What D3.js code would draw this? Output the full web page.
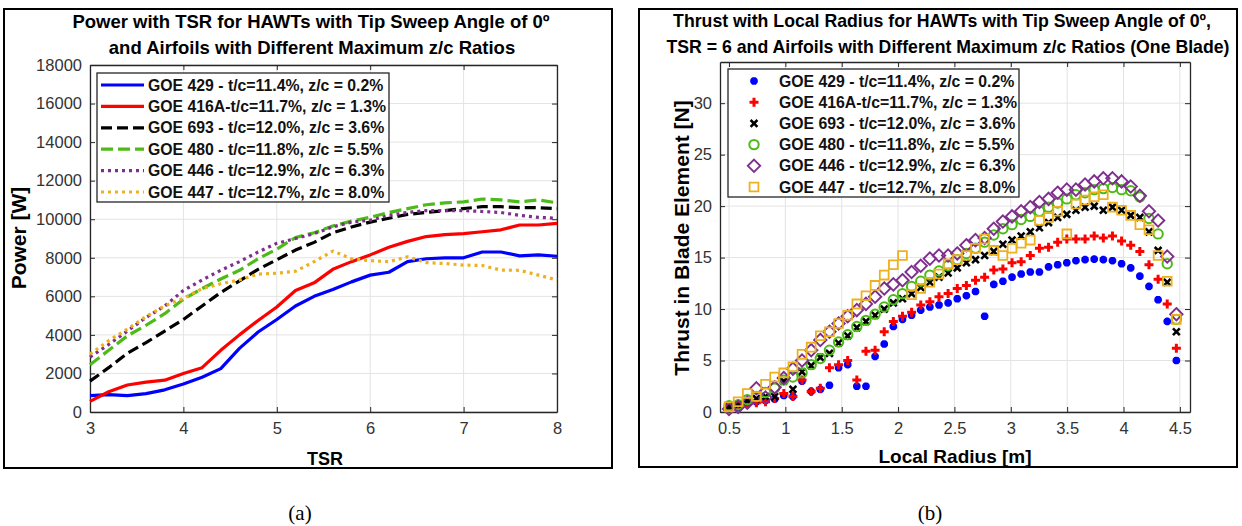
<!DOCTYPE html>
<html><head><meta charset="utf-8">
<script src="https://cdn.jsdelivr.net/npm/d3@7"></script>
<style>body{margin:0;background:#fff}svg{display:block}</style>
</head><body>
<svg id="c" width="1242" height="526"></svg>
<script>
// ---------- DATA ----------
const seriesNames = [
  "GOE 429 - t/c=11.4%, z/c = 0.2%",
  "GOE 416A-t/c=11.7%, z/c = 1.3%",
  "GOE 693 - t/c=12.0%, z/c = 3.6%",
  "GOE 480 - t/c=11.8%, z/c = 5.5%",
  "GOE 446 - t/c=12.9%, z/c = 6.3%",
  "GOE 447 - t/c=12.7%, z/c = 8.0%"
];
const tsr = [3.0,3.2,3.4,3.6,3.8,4.0,4.2,4.4,4.6,4.8,5.0,5.2,5.4,5.6,5.8,6.0,6.2,6.4,6.6,6.8,7.0,7.2,7.4,7.6,7.8,8.0];
const powerGOE429  = [850,900,850,950,1150,1450,1800,2250,3300,4150,4800,5500,6000,6350,6750,7100,7250,7800,7950,8000,8000,8300,8300,8100,8150,8080];
const powerGOE416A = [550,1050,1400,1550,1650,2000,2300,3200,4000,4750,5450,6300,6700,7400,7800,8150,8550,8850,9100,9200,9250,9350,9450,9700,9700,9780];
const powerGOE693  = [1600,2300,3050,3600,4200,4800,5500,6200,6800,7400,7900,8400,8800,9300,9600,9850,10050,10250,10350,10450,10550,10650,10650,10600,10600,10550];
const powerGOE480  = [2450,3200,3950,4500,5100,5850,6400,6900,7350,7950,8450,9050,9300,9650,9900,10100,10350,10550,10750,10850,10900,11050,11000,10900,11000,10850];
const powerGOE446  = [2850,3500,4200,4900,5500,6300,6850,7350,7800,8300,8750,9000,9250,9600,9850,9950,10200,10350,10450,10450,10450,10400,10350,10200,10100,10050];
const powerGOE447  = [3000,3700,4300,4950,5500,5900,6400,6650,6850,7150,7200,7300,7800,8350,7950,7850,7800,8050,7750,7700,7620,7600,7360,7350,7100,6850];

const radius = [0.500,0.581,0.662,0.743,0.824,0.905,0.986,1.067,1.148,1.229,
  1.310,1.391,1.472,1.553,1.634,1.715,1.796,1.877,1.958,2.039,
  2.120,2.201,2.282,2.363,2.444,2.525,2.606,2.687,2.768,2.849,
  2.930,3.011,3.092,3.173,3.254,3.335,3.416,3.497,3.578,3.659,
  3.740,3.821,3.902,3.983,4.064,4.145,4.226,4.307,4.388,4.469];
const thrustGOE429 = [0.5,0.45,0.9,1.0,1.1,1.25,1.6,1.5,3.0,2.0,
  2.2,2.6,4.3,4.6,2.5,2.5,5.4,6.6,8.3,9.0,
  9.4,9.9,10.2,10.4,10.6,11.0,11.3,11.7,9.3,12.4,
  12.7,13.1,13.4,13.6,13.6,14.1,14.3,14.5,14.7,14.8,
  14.85,14.8,14.7,14.4,14.0,13.2,12.2,10.9,8.8,5.0];
const thrustGOE416A = [0.5,0.6,0.8,0.9,1.0,1.3,1.8,1.5,3.1,2.0,
  2.3,4.3,4.6,5.0,3.1,5.9,6.0,7.8,8.8,9.3,
  9.7,10.4,10.7,11.2,11.5,12.0,12.3,12.8,13.1,13.8,
  13.9,14.5,14.6,15.2,15.9,16.0,16.5,16.8,16.8,16.8,
  17.1,16.9,17.1,16.6,16.2,15.6,14.3,12.9,10.5,6.2];
const thrustGOE693 = [0.5,0.7,1.1,1.3,1.5,1.5,3.0,2.2,3.9,4.5,
  5.3,5.7,6.7,7.4,8.2,8.8,9.4,10.0,10.6,11.0,
  11.5,12.1,12.6,13.1,13.5,14.0,14.5,14.8,15.2,15.6,
  16.3,16.7,17.1,17.5,17.9,18.4,18.9,19.2,19.6,19.9,
  20.0,19.6,19.9,19.6,19.1,18.9,17.5,15.7,12.6,7.8];
const thrustGOE480 = [0.6,0.7,1.2,1.5,1.9,2.3,3.1,3.4,3.8,4.6,
  5.2,6.0,6.8,7.5,8.3,8.9,9.5,10.2,10.9,11.5,
  12.2,12.7,13.3,13.7,14.2,14.8,15.4,15.9,16.5,17.2,
  17.8,18.2,18.7,19.0,19.5,19.9,20.3,20.7,21.1,21.3,
  21.6,21.7,21.8,21.6,21.5,20.9,18.8,17.3,14.4,9.0];
const thrustGOE446 = [0.3,0.5,0.9,2.3,1.4,2.4,3.3,4.2,5.0,6.0,
  7.0,7.8,8.6,9.3,9.9,10.5,11.2,12.0,12.4,12.8,
  13.6,14.2,14.9,15.2,15.2,15.4,16.2,16.7,16.9,17.8,
  18.5,19.0,19.5,19.9,20.4,20.7,21.3,21.6,21.6,22.1,
  22.4,22.7,22.7,22.4,21.9,21.0,19.5,18.6,15.1,9.5];
const thrustGOE447 = [0.5,1.0,1.8,1.5,2.7,3.4,3.8,4.4,5.6,6.3,
  7.4,7.8,8.6,9.4,10.5,11.3,12.3,13.3,14.3,15.2,
  11.4,12.0,12.6,13.4,14.4,14.8,15.2,15.9,16.8,15.7,
  15.2,15.9,16.4,16.7,18.6,18.9,19.5,17.3,20.2,20.6,
  20.9,21.1,19.9,19.6,19.1,18.2,17.7,15.2,12.7,9.0];

const powerTicks = [0,2000,4000,6000,8000,10000,12000,14000,16000,18000];
const tsrTicks = [3,4,5,6,7,8];
const radiusTicks = [0.5,1,1.5,2,2.5,3,3.5,4,4.5];
const thrustTicks = [0,5,10,15,20,25,30];

// ---------- STYLE ----------
const colors = ["#0000ff","#ff0000","#000000","#4cbb17","#7e2f8e","#edb120"];
const dashes = [null,null,"11,5","12,5","3,4","3,4"];
const FONT = "'Liberation Sans', Arial, Helvetica, sans-serif";
const AX = "#262626", GRID = "#e3e3e3";

const svg = d3.select("#c").style("font-family", FONT);

// outer frames
svg.append("rect").attr("x",4).attr("y",9).attr("width",608).attr("height",459)
  .attr("fill","none").attr("stroke","#000").attr("stroke-width",2);
svg.append("rect").attr("x",639).attr("y",9).attr("width",598).attr("height",458)
  .attr("fill","none").attr("stroke","#000").attr("stroke-width",2);

function drawAxes(g, x, y, xt, yt, xfmt, yfmt) {
  const [x0,x1] = x.range(), [y0,y1] = y.range();
  g.append("g").selectAll("line").data(xt).join("line")
    .attr("x1",d=>x(d)).attr("x2",d=>x(d)).attr("y1",y1).attr("y2",y0)
    .attr("stroke",GRID).attr("stroke-width",1);
  g.append("g").selectAll("line").data(yt).join("line")
    .attr("y1",d=>y(d)).attr("y2",d=>y(d)).attr("x1",x0).attr("x2",x1)
    .attr("stroke",GRID).attr("stroke-width",1);
  const xb = g.append("g").attr("transform",`translate(0,${y0})`)
    .call(d3.axisBottom(x).tickValues(xt).tickFormat(xfmt).tickSizeInner(-5).tickSizeOuter(0).tickPadding(10));
  const xtop = g.append("g").attr("transform",`translate(0,${y1})`)
    .call(d3.axisTop(x).tickValues(xt).tickFormat("").tickSizeInner(-5).tickSizeOuter(0));
  const yl = g.append("g").attr("transform",`translate(${x0},0)`)
    .call(d3.axisLeft(y).tickValues(yt).tickFormat(yfmt).tickSizeInner(-5).tickSizeOuter(0).tickPadding(8));
  const yr = g.append("g").attr("transform",`translate(${x1},0)`)
    .call(d3.axisRight(y).tickValues(yt).tickFormat("").tickSizeInner(-5).tickSizeOuter(0));
  [xb,xtop,yl,yr].forEach(a=>{
    a.selectAll("path").attr("stroke",AX).attr("stroke-width",1.3);
    a.selectAll("line").attr("stroke",AX);
    a.selectAll("text").attr("fill","#333").style("font-size","16.5px").style("font-family",FONT);
  });
}

// ---------- LEFT CHART ----------
{
  const x = d3.scaleLinear().domain([3,8]).range([90,557]);
  const y = d3.scaleLinear().domain([0,18000]).range([412,65]);
  const g = svg.append("g");
  drawAxes(g, x, y, tsrTicks, powerTicks, d3.format("d"), d3.format("d"));
  const seriesP = [powerGOE429,powerGOE416A,powerGOE693,powerGOE480,powerGOE446,powerGOE447];
  const line = d3.line().x((d,i)=>x(tsr[i])).y(d=>y(d));
  seriesP.forEach((s,k)=>{
    g.append("path").datum(s).attr("d",line).attr("fill","none")
      .attr("stroke",colors[k]).attr("stroke-width",3.2)
      .attr("stroke-dasharray",dashes[k]).attr("stroke-linejoin","round");
  });
  const t = svg.append("text").attr("text-anchor","middle").attr("font-weight","bold")
    .style("font-size","18.5px").attr("fill","#000");
  t.append("tspan").attr("x",311).attr("y",28).text("Power with TSR for HAWTs with Tip Sweep Angle of 0º");
  t.append("tspan").attr("x",312).attr("y",54).text("and Airfoils with Different Maximum z/c Ratios");
  svg.append("text").attr("x",325).attr("y",465).attr("text-anchor","middle")
    .attr("font-weight","bold").style("font-size","18px").text("TSR");
  svg.append("text").attr("transform","translate(26,238) rotate(-90)").attr("text-anchor","middle")
    .attr("font-weight","bold").style("font-size","21px").text("Power [W]");
  const lg = svg.append("g");
  lg.append("rect").attr("x",97).attr("y",73).attr("width",292).attr("height",129)
    .attr("fill","#fff").attr("stroke",AX).attr("stroke-width",1.3);
  seriesNames.forEach((n,k)=>{
    const yy = 85 + k*21.4;
    lg.append("line").attr("x1",101).attr("x2",144).attr("y1",yy).attr("y2",yy)
      .attr("stroke",colors[k]).attr("stroke-width",3.2).attr("stroke-dasharray",dashes[k]);
    lg.append("text").attr("x",148).attr("y",yy+5.5).attr("font-weight","bold")
      .style("font-size","15.8px").attr("fill","#111").text(n);
  });
}

// ---------- RIGHT CHART ----------
function markerPath(type, s) {
  switch(type){
    case "asterisk": { const d=s*0.72; return `M${-s},0H${s}M0,${-s}V${s}M${-d},${-d}L${d},${d}M${-d},${d}L${d},${-d}`; }
    case "plus": return `M${-s},0H${s}M0,${-s}V${s}`;
    case "x": return `M${-s},${-s}L${s},${s}M${-s},${s}L${s},${-s}`;
    case "circle": return `M${s},0A${s},${s} 0 1,1 ${-s},0A${s},${s} 0 1,1 ${s},0Z`;
    case "diamond": return `M0,${-s}L${s},0L0,${s}L${-s},0Z`;
    case "square": return `M${-s},${-s}H${s}V${s}H${-s}Z`;
  }
}
const markers = [
  {type:"asterisk", s:3.8, w:2.7},
  {type:"plus", s:4.5, w:3},
  {type:"x", s:3.4, w:2.6},
  {type:"circle", s:4.7, w:2},
  {type:"diamond", s:6.2, w:1.9},
  {type:"square", s:4.4, w:1.8}
];
{
  const x = d3.scaleLinear().domain([0.42,4.59]).range([720,1190]);
  const y = d3.scaleLinear().domain([0,34]).range([412,62]);
  const g = svg.append("g");
  drawAxes(g, x, y, radiusTicks, thrustTicks, d3.format(""), d3.format("d"));
  const seriesT = [thrustGOE429,thrustGOE416A,thrustGOE693,thrustGOE480,thrustGOE446,thrustGOE447];
  seriesT.forEach((s,k)=>{
    const m = markers[k];
    g.append("g").selectAll("path").data(s).join("path")
      .attr("transform",(d,i)=>`translate(${x(radius[i])},${y(d)})`)
      .attr("d",markerPath(m.type,m.s)).attr("fill","none")
      .attr("stroke",colors[k]).attr("stroke-width",m.w);
  });
  const t = svg.append("text").attr("text-anchor","middle").attr("font-weight","bold")
    .style("font-size","17.7px").attr("fill","#000");
  t.append("tspan").attr("x",942).attr("y",27).text("Thrust with Local Radius for HAWTs with Tip Sweep Angle of 0º,");
  t.append("tspan").attr("x",948).attr("y",53).text("TSR = 6 and Airfoils with Different Maximum z/c Ratios (One Blade)");
  svg.append("text").attr("x",955).attr("y",463).attr("text-anchor","middle")
    .attr("font-weight","bold").style("font-size","19px").text("Local Radius [m]");
  svg.append("text").attr("transform","translate(689,238) rotate(-90)").attr("text-anchor","middle")
    .attr("font-weight","bold").style("font-size","21px").text("Thrust in Blade Element [N]");
  const lg = svg.append("g");
  lg.append("rect").attr("x",728).attr("y",69).attr("width",291).attr("height",128)
    .attr("fill","#fff").attr("stroke",AX).attr("stroke-width",1.3);
  seriesNames.forEach((n,k)=>{
    const yy = 81 + k*21.2;
    const m = markers[k];
    lg.append("path").attr("transform",`translate(754,${yy})`).attr("d",markerPath(m.type,m.s))
      .attr("fill","none").attr("stroke",colors[k]).attr("stroke-width",m.w);
    lg.append("text").attr("x",779).attr("y",yy+5.5).attr("font-weight","bold")
      .style("font-size","15.8px").attr("fill","#111").text(n);
  });
}

// subfigure labels
svg.append("text").attr("x",300).attr("y",520).attr("text-anchor","middle")
  .style("font-family","'Liberation Serif','DejaVu Serif',serif").style("font-size","21px").text("(a)");
svg.append("text").attr("x",930).attr("y",520).attr("text-anchor","middle")
  .style("font-family","'Liberation Serif','DejaVu Serif',serif").style("font-size","21px").text("(b)");
</script>
</body></html>
